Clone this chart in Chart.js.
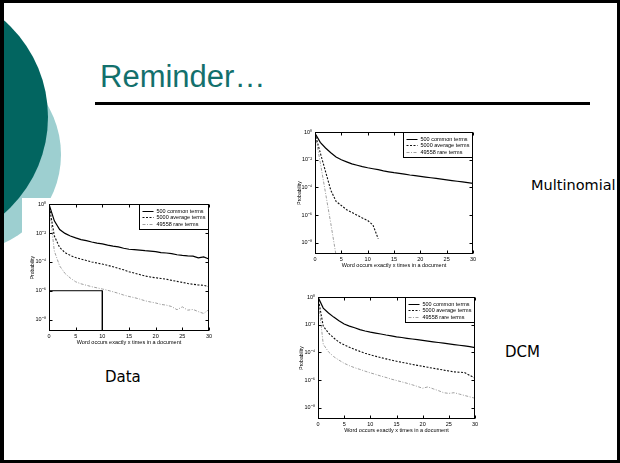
<!DOCTYPE html>
<html>
<head>
<meta charset="utf-8">
<script src="https://cdn.jsdelivr.net/npm/chart.js@4"></script>
<style>
html,body{margin:0;padding:0;background:#fff;}
#slide{position:relative;width:620px;height:463px;overflow:hidden;background:#fff;}
#frame{position:absolute;left:0;top:0;width:620px;height:463px;box-sizing:border-box;border:3px solid #000;border-left-width:4px;z-index:10;pointer-events:none;}
.disc{position:absolute;border-radius:50%;}
#discLight{left:-134px;top:57px;width:195px;height:195px;background:#9dcfd0;}
#discDark{left:-208px;top:-11px;width:256px;height:256px;background:#026560;}
#title{position:absolute;left:100px;top:61px;font:31px/1 "Liberation Sans",Arial,sans-serif;color:#13706c;white-space:nowrap;}
#rule{position:absolute;left:95px;top:102px;width:495px;height:3px;background:#000;}
.note{position:absolute;font:15px/1 "DejaVu Sans",sans-serif;color:#000;white-space:nowrap;}
.plot{position:absolute;background:#fff;}
</style>
</head>
<body>
<div id="slide">
  <div class="disc" id="discLight"></div>
  <div class="disc" id="discDark"></div>
  <div id="title">Reminder…</div>
  <div id="rule"></div>

  <canvas class="plot" id="plotData" width="200" height="165" style="left:22px;top:198px;"></canvas>
  <canvas class="plot" id="plotMulti" width="190" height="160" style="left:295px;top:118px;"></canvas>
  <canvas class="plot" id="plotDcm" width="190" height="160" style="left:295px;top:284px;"></canvas>

  <div class="note" style="left:531px;top:178px;font-size:14.5px;">Multinomial</div>
  <div class="note" style="left:505px;top:345px;">DCM</div>
  <div class="note" style="left:105px;top:370px;">Data</div>
  <div id="frame"></div>
</div>

<script>
// Number of occurrences of a word in one document
const xValues = [0,1,2,3,4,5,6,7,8,9,10,11,12,13,14,15,16,17,18,19,20,21,22,23,24,25,26,27,28,29,30];
const xTickValues = [0,5,10,15,20,25,30];
const yTickValues = [1, 1e-2, 1e-4, 1e-6, 1e-8];
const yTickLabels = ['10⁰','10⁻²','10⁻⁴','10⁻⁶','10⁻⁸'];
const yFloor = 1.6e-9;
const seriesLabels = ['500 common terms', '5000 average terms', '49558 rare terms'];
const xTitle = 'Word occurs exactly x times in a document';
const yTitle = 'Probability';

// Empirical probabilities
const dataCommon = [1, 7.1e-2, 1.78e-2, 9.55e-3, 6.31e-3, 4.68e-3, 3.55e-3, 3.02e-3, 2.4e-3, 2.0e-3,
  1.78e-3, 1.48e-3, 1.26e-3, 1.12e-3, 8.91e-4, 7.59e-4, 7.08e-4, 6.61e-4, 6.03e-4, 5.62e-4,
  5.25e-4, 4.47e-4, 4.17e-4, 3.8e-4, 3.16e-4, 2.82e-4, 2.63e-4, 2.51e-4, 1.91e-4, 2.24e-4, 1.58e-4];
const dataAverage = [1, 6.31e-3, 1.0e-3, 4.47e-4, 2.82e-4, 2.0e-4, 1.58e-4, 1.26e-4, 1.0e-4, 8.32e-5,
  7.08e-5, 5.75e-5, 4.68e-5, 3.55e-5, 2.82e-5, 2.09e-5, 1.66e-5, 1.32e-5, 1.05e-5, 8.91e-6,
  7.94e-6, 7.08e-6, 6.31e-6, 5.25e-6, 4.47e-6, 3.8e-6, 3.16e-6, 2.82e-6, 2.51e-6, 2.4e-6, 1.91e-6];
const dataRare = [1, 5.62e-4, 5.25e-5, 1.58e-5, 7.59e-6, 4.17e-6, 3.02e-6, 2.4e-6, 1.91e-6, 1.58e-6,
  1.32e-6, 1.07e-6, 8.51e-7, 6.61e-7, 5.01e-7, 3.98e-7, 3.31e-7, 2.63e-7, 2.0e-7, 1.66e-7,
  1.41e-7, 1.12e-7, 1.0e-7, 7.94e-8, 4.79e-8, 7.59e-8, 4.47e-8, 5.01e-8, 3.55e-8, 2.63e-8, 5.01e-8];
// Outline of the low-count region highlighted on the empirical plot
const boxOutline = [{x: 0, y: 1e-6}, {x: 10, y: 1e-6}, {x: 10, y: yFloor}];

// Multinomial model fit
const multiCommon = [7.94e-1, 1.78e-1, 7.08e-2, 3.16e-2, 1.58e-2, 1.0e-2, 7.08e-3, 5.01e-3, 3.98e-3, 3.16e-3,
  2.63e-3, 2.24e-3, 1.91e-3, 1.58e-3, 1.35e-3, 1.17e-3, 1.05e-3, 9.12e-4, 7.94e-4, 7.08e-4,
  6.31e-4, 5.62e-4, 5.01e-4, 4.47e-4, 3.98e-4, 3.55e-4, 3.16e-4, 2.82e-4, 2.51e-4, 2.24e-4, 2.0e-4];
const multiAverage = [7.94e-1, 3.16e-2, 1.41e-3, 6.31e-5, 1.0e-5, 5.01e-6, 2.51e-6, 1.58e-6, 1.0e-6, 6.31e-7,
  4.17e-7, 2.0e-7, 2.0e-8];
const multiRare = [7.94e-1, 6.31e-3, 3.98e-5, 2.51e-7, 1.26e-9];

// Dirichlet compound multinomial fit
const dcmCommon = [1, 1.58e-1, 7.08e-2, 3.55e-2, 1.91e-2, 1.12e-2, 7.94e-3, 6.03e-3, 4.47e-3, 3.55e-3,
  2.95e-3, 2.51e-3, 2.14e-3, 1.82e-3, 1.58e-3, 1.35e-3, 1.2e-3, 1.05e-3, 9.33e-4, 8.32e-4,
  7.41e-4, 6.61e-4, 5.89e-4, 5.25e-4, 4.68e-4, 4.17e-4, 3.72e-4, 3.31e-4, 2.95e-4, 2.63e-4, 2.24e-4];
const dcmAverage = [1, 7.94e-3, 2.51e-3, 1.12e-3, 5.62e-4, 3.55e-4, 2.4e-4, 1.66e-4, 1.2e-4, 8.91e-5,
  6.76e-5, 5.37e-5, 4.27e-5, 3.47e-5, 2.82e-5, 2.34e-5, 1.95e-5, 1.66e-5, 1.38e-5, 1.17e-5,
  1.0e-5, 8.51e-6, 7.24e-6, 6.31e-6, 5.37e-6, 4.68e-6, 3.98e-6, 3.8e-6, 3.55e-6, 2.24e-6, 1.41e-6];
const dcmRare = [1, 3.98e-4, 1.12e-4, 5.01e-5, 2.82e-5, 1.66e-5, 1.12e-5, 7.94e-6, 6.03e-6, 4.47e-6,
  3.39e-6, 2.63e-6, 2.0e-6, 1.58e-6, 1.2e-6, 9.55e-7, 7.59e-7, 6.03e-7, 4.68e-7, 3.55e-7,
  2.63e-7, 3.31e-7, 2.4e-7, 1.78e-7, 1.26e-7, 1.12e-7, 1.26e-7, 1.0e-7, 7.94e-8, 6.31e-8, 5.01e-8];

const FAMILY = '"Liberation Sans", Arial, sans-serif';
const lineStyles = [
  {borderColor: '#000000', borderDash: [], borderWidth: 1.2},
  {borderColor: '#111111', borderDash: [2, 1.5], borderWidth: 1.1},
  {borderColor: '#a0a0a0', borderDash: [3, 1.5, 1, 1.5], borderWidth: 1}
];

function curve(values) {
  return values.map((v, i) => ({x: xValues[i], y: v}));
}

function modelDatasets(common, average, rare) {
  return [common, average, rare].map((vals, i) => Object.assign({
    label: seriesLabels[i],
    data: curve(vals),
    inLegend: true
  }, lineStyles[i]));
}

// Boxed axes with inward ticks on every side, plus an inset legend
const boxedAxes = {
  id: 'boxedAxes',
  afterDatasetsDraw(chart) {
    const {ctx, chartArea: a} = chart;
    const xs = chart.scales.x, ys = chart.scales.y;
    ctx.save();
    ctx.strokeStyle = '#000';
    ctx.lineWidth = 1;
    ctx.setLineDash([]);
    const L = Math.round(a.left) + 0.5, R = Math.round(a.right) - 0.5;
    const T = Math.round(a.top) + 0.5, B = Math.round(a.bottom) - 0.5;
    ctx.strokeRect(L, T, R - L, B - T);
    const t = 3;
    ctx.beginPath();
    xTickValues.forEach(v => {
      const px = Math.round(xs.getPixelForValue(v)) + 0.5;
      ctx.moveTo(px, B); ctx.lineTo(px, B - t);
      ctx.moveTo(px, T); ctx.lineTo(px, T + t);
    });
    yTickValues.forEach(v => {
      const py = Math.round(ys.getPixelForValue(v)) + 0.5;
      ctx.moveTo(L, py); ctx.lineTo(L + t, py);
      ctx.moveTo(R, py); ctx.lineTo(R - t, py);
    });
    ctx.stroke();

    const items = chart.data.datasets.filter(d => d.inLegend);
    ctx.font = '5.5px ' + FAMILY;
    const rowH = 6.6, pad = 3, sample = 11, gap = 3;
    const textW = Math.max(...items.map(d => ctx.measureText(d.label).width));
    const w = Math.round(pad + sample + gap + textW + pad);
    const h = Math.round(pad * 2 + rowH * items.length - 1);
    const bx = R - w, by = T;
    ctx.fillStyle = '#fff';
    ctx.fillRect(bx, by, w, h);
    ctx.strokeStyle = '#000';
    ctx.strokeRect(bx, by, w, h);
    ctx.textBaseline = 'middle';
    items.forEach((d, i) => {
      const cy = Math.round(by + pad + rowH * i + rowH / 2) + 0.5;
      ctx.strokeStyle = d.borderColor;
      ctx.lineWidth = 1;
      ctx.setLineDash(d.borderDash || []);
      ctx.beginPath();
      ctx.moveTo(bx + pad, cy);
      ctx.lineTo(bx + pad + sample, cy);
      ctx.stroke();
      ctx.setLineDash([]);
      ctx.fillStyle = '#000';
      ctx.fillText(d.label, bx + pad + sample + gap, cy);
    });
    ctx.restore();
  }
};

function buildChart(id, datasets, padding, yWidth) {
  return new Chart(document.getElementById(id), {
    type: 'line',
    data: {datasets},
    plugins: [boxedAxes],
    options: {
      responsive: false,
      animation: false,
      devicePixelRatio: 1,
      layout: {padding},
      plugins: {legend: {display: false}, tooltip: {enabled: false}},
      elements: {point: {radius: 0}, line: {tension: 0, borderWidth: 1}},
      scales: {
        x: {
          type: 'linear', min: 0, max: 30,
          grid: {display: false, drawTicks: false}, border: {display: false},
          afterBuildTicks: s => { s.ticks = xTickValues.map(v => ({value: v})); },
          afterFit: s => { s.height = 15; },
          ticks: {font: {size: 5.5, family: FAMILY}, color: '#000', padding: 2, maxRotation: 0, autoSkip: false},
          title: {display: true, text: xTitle, font: {size: 5.5, family: FAMILY}, color: '#000', padding: {top: 1, bottom: 0}}
        },
        y: {
          type: 'logarithmic', min: yFloor, max: 1,
          grid: {display: false, drawTicks: false}, border: {display: false},
          afterBuildTicks: s => { s.ticks = yTickValues.map(v => ({value: v})); },
          afterFit: s => { s.width = yWidth; },
          ticks: {
            font: {size: 5.5, family: FAMILY}, color: '#000', padding: 3, autoSkip: false,
            callback: (v) => yTickLabels[yTickValues.indexOf(v)]
          },
          title: {display: true, text: yTitle, font: {size: 5, family: FAMILY}, color: '#000', padding: {top: 0, bottom: 1}}
        }
      }
    }
  });
}

const empirical = modelDatasets(dataCommon, dataAverage, dataRare);
empirical.push({data: boxOutline, borderColor: '#000', borderWidth: 1, inLegend: false});
buildChart('plotData', empirical, {left: 8, right: 13, top: 6, bottom: 17}, 19);
buildChart('plotMulti', modelDatasets(multiCommon, multiAverage, multiRare), {left: 2, right: 12, top: 14, bottom: 9}, 18);
buildChart('plotDcm', modelDatasets(dcmCommon, dcmAverage, dcmRare), {left: 4, right: 10, top: 13, bottom: 10}, 19);
</script>
</body>
</html>
